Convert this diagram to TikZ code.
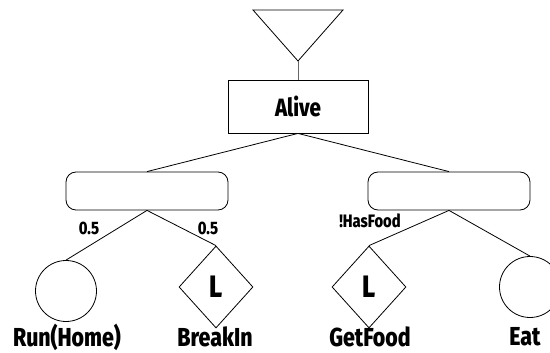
\documentclass[tikz,border=0pt]{standalone}
\usepackage{fontspec}
\setmainfont{Fira Sans}[FakeStretch=0.82,BoldFont={Fira Sans ExtraBold}]
\usetikzlibrary{shapes.geometric}
\begin{document}
\begin{tikzpicture}[x=1pt,y=-1pt,line width=0.8pt,
  seqbox/.style={draw,rectangle,minimum width=140pt,minimum height=53pt,inner sep=0pt,font=\bfseries\fontsize{25}{27}\selectfont},
  selbox/.style={draw,rectangle,rounded corners=10pt,minimum width=162pt,minimum height=38pt,inner sep=0pt},
  actnode/.style={draw,circle,minimum size=61pt,inner sep=0pt},
  lookup/.style={draw,diamond,minimum width=74pt,minimum height=82pt,inner sep=0pt,font=\bfseries\fontsize{31}{33}\selectfont},
  caption/.style={font=\bfseries\fontsize{26}{28}\selectfont,inner sep=0pt},
  edgelabel/.style={font=\bfseries\fontsize{18}{20}\selectfont,inner sep=0pt}]
  \useasboundingbox (0,0) rectangle (550,353);
  % root marker
  \draw (253,10) -- (343,10) -- (298,61) -- cycle;
  \coordinate (apex) at (298,61);
  % tree nodes
  \node[seqbox] (alive) at (298,106.5) {Alive};
  \node[selbox] (lsel) at (147,191) {};
  \node[selbox] (rsel) at (449,191) {};
  \node[actnode] (run) at (66,291) {};
  \node[lookup] (breakin) at (216,287) {L};
  \node[lookup] (getfood) at (369,287) {L};
  \node[actnode] (eat) at (530,287) {};
  % captions
  \node[caption] (runlbl) at (67,337) {Run(Home)};
  \node[caption] (breaklbl) at (215,337) {BreakIn};
  \node[caption] (getlbl) at (370,337) {GetFood};
  \node[caption] (eatlbl) at (525,337) {Eat};
  % edge labels
  \node[edgelabel] (p1) at (89,228) {0.5};
  \node[edgelabel] (p2) at (208,228) {0.5};
  \node[edgelabel] (cond) at (370,221) {!HasFood};
  % connectors
  \draw[gray!80!black,line width=1pt] (apex) -- (alive.north);
  \draw (alive.south) -- (lsel.north);
  \draw (alive.south) -- (rsel.north);
  \draw (lsel.south) -- (run.north);
  \draw (lsel.south) -- (breakin.north);
  \draw (rsel.south) -- (getfood.north);
  \draw (rsel.south) -- (eat.north);
\end{tikzpicture}
\end{document}
